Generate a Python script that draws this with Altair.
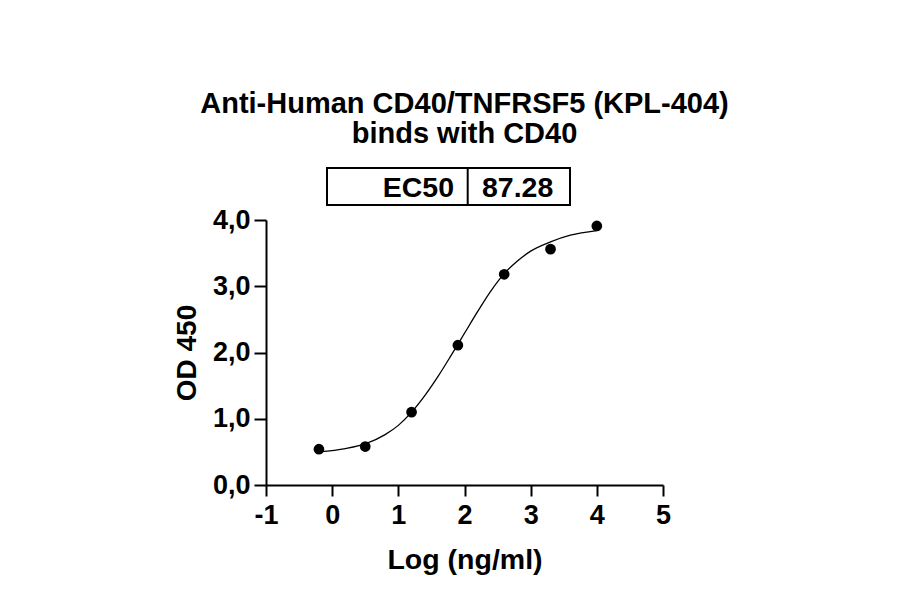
import altair as alt
import pandas as pd

# ---- data ----
log_conc = [-0.2, 0.5, 1.2, 1.9, 2.6, 3.3, 4.0]
od450 = [0.54, 0.58, 1.10, 2.11, 3.18, 3.56, 3.91]

curve_x = [-0.2, 0.2, 0.5, 0.8, 1.0, 1.2, 1.4, 1.6, 1.8, 2.0, 2.2, 2.4, 2.6, 2.8, 3.0, 3.3, 3.6, 4.0]
curve_y = [0.50, 0.55, 0.62, 0.76, 0.90, 1.10, 1.35, 1.64, 1.96, 2.29, 2.62, 2.93, 3.19, 3.38, 3.53, 3.67, 3.77, 3.84]

title_lines = ["Anti-Human CD40/TNFRSF5 (KPL-404)", "binds with CD40"]
ec50_label = "EC50"
ec50_value = "87.28"

x_ticks = [-1, 0, 1, 2, 3, 4, 5]
y_ticks = [0, 1, 2, 3, 4]

FONT = "Liberation Sans"
W, H = 397, 265

pts = pd.DataFrame({"x": log_conc, "y": od450})
crv = pd.DataFrame({"x": curve_x, "y": curve_y})

xscale = alt.Scale(domain=[-1, 5], nice=False, zero=False)
yscale = alt.Scale(domain=[0, 4], nice=False)

xaxis = alt.Axis(
    title="Log (ng/ml)", values=x_ticks, grid=False,
    labelExpr="'' + datum.value",
    domainColor="black", domainWidth=2, tickColor="black", tickWidth=2, tickSize=11,
    labelFont=FONT, labelFontWeight="bold", labelFontSize=27, labelColor="black",
    labelPadding=6, titleFont=FONT, titleFontWeight="bold", titleFontSize=28.5,
    titleColor="black", titleX=W / 2, titleY=83, titleBaseline="alphabetic",
    titleAlign="center", labelFlush=False, labelOverlap=False,
)
yaxis = alt.Axis(
    title="OD 450", values=y_ticks, grid=False,
    labelExpr="replace(format(datum.value, '.1f'), '.', ',')",
    domainColor="black", domainWidth=2, tickColor="black", tickWidth=2, tickSize=12,
    labelFont=FONT, labelFontWeight="bold", labelFontSize=27, labelColor="black",
    labelPadding=4, titleFont=FONT, titleFontWeight="bold", titleFontSize=28,
    titleColor="black", titleAngle=-90, titleX=-71, titleY=H / 2,
    titleBaseline="alphabetic", titleAlign="center", labelFlush=False, labelOverlap=False,
)

line = alt.Chart(crv).mark_line(color="black", strokeWidth=1.3, interpolate="monotone").encode(
    x=alt.X("x:Q", scale=xscale, axis=xaxis),
    y=alt.Y("y:Q", scale=yscale, axis=yaxis),
)
points = alt.Chart(pts).mark_circle(color="black", size=115, opacity=1).encode(
    x=alt.X("x:Q", scale=xscale),
    y=alt.Y("y:Q", scale=yscale),
)

t1 = alt.Chart(pd.DataFrame({"t": [title_lines[0]]})).mark_text(
    font=FONT, fontWeight="bold", fontSize=29, color="black", align="center", baseline="alphabetic"
).encode(text="t:N", x=alt.value(W / 2), y=alt.value(-107))
t2 = alt.Chart(pd.DataFrame({"t": [title_lines[1]]})).mark_text(
    font=FONT, fontWeight="bold", fontSize=29, color="black", align="center", baseline="alphabetic"
).encode(text="t:N", x=alt.value(W / 2), y=alt.value(-77))

box = alt.Chart(pd.DataFrame({"a": [0]})).mark_rect(
    fill="white", stroke="black", strokeWidth=2
).encode(x=alt.value(61), x2=alt.value(304), y=alt.value(-52), y2=alt.value(-15))
divider = alt.Chart(pd.DataFrame({"a": [0]})).mark_rule(color="black", strokeWidth=2).encode(
    x=alt.value(201.7), y=alt.value(-52), y2=alt.value(-15)
)
lab = alt.Chart(pd.DataFrame({"t": [ec50_label]})).mark_text(
    font=FONT, fontWeight="bold", fontSize=28.5, color="black", align="right", baseline="alphabetic"
).encode(text="t:N", x=alt.value(188), y=alt.value(-23))
val = alt.Chart(pd.DataFrame({"t": [ec50_value]})).mark_text(
    font=FONT, fontWeight="bold", fontSize=28.5, color="black", align="left", baseline="alphabetic"
).encode(text="t:N", x=alt.value(216), y=alt.value(-23))

chart = alt.layer(line, points, t1, t2, box, divider, lab, val).properties(
    width=W, height=H,
    autosize=alt.AutoSizeParams(type="none"),
    padding={"left": 258, "top": 212, "right": 220, "bottom": 100},
    background="white",
).configure_view(stroke=None)

chart.save("out.html", embed_options={"renderer": "svg", "actions": False})
